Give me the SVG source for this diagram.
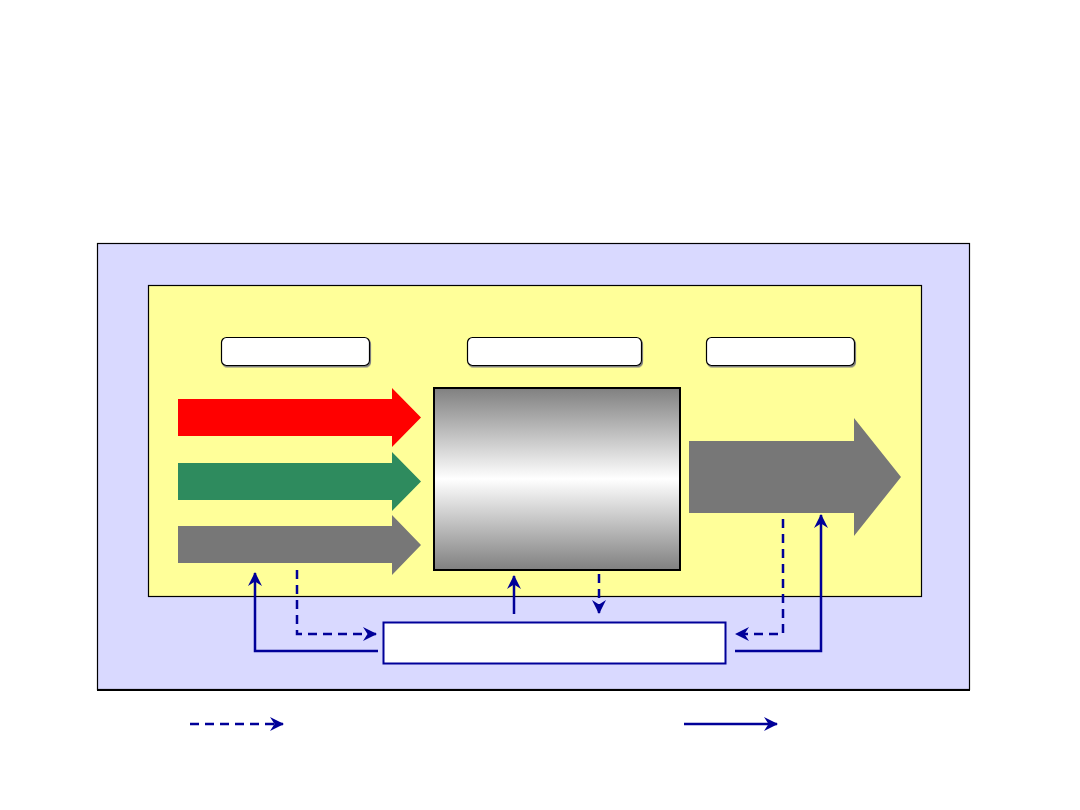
<svg xmlns="http://www.w3.org/2000/svg" width="1080" height="810" viewBox="0 0 1080 810">
<defs>
<style>
.lbl{fill:#fff;stroke:#000;stroke-width:1.2}
.c{fill:none;stroke:#000099;stroke-width:2.5}
.d{stroke-dasharray:9,6}
</style>
<linearGradient id="g" x1="0" y1="0" x2="0" y2="1">
<stop offset="0" stop-color="#808080"/>
<stop offset="0.5" stop-color="#ffffff"/>
<stop offset="1" stop-color="#808080"/>
</linearGradient>
<marker id="a" viewBox="0 0 14 14" refX="13" refY="7" markerWidth="14" markerHeight="14" markerUnits="userSpaceOnUse" orient="auto">
<path d="M0,0 L14,7 L0,14 L4.5,7 z" fill="#000099"/>
</marker>
<filter id="sh" x="-5%" y="-5%" width="110%" height="130%">
<feDropShadow dx="1" dy="1.5" stdDeviation="0.5" flood-color="#808080"/>
</filter>
</defs>
<rect width="1080" height="810" fill="#fff"/>
<g id="outer"><rect x="97.5" y="243.5" width="872" height="446" fill="#D9D9FF" stroke="#000" stroke-width="1.2"/><line x1="97" y1="690" x2="970" y2="690" stroke="#000" stroke-width="2"/></g>
<g id="inner"><rect x="148.5" y="285.5" width="773" height="311" fill="#FFFF99" stroke="#000" stroke-width="1.2"/></g>
<g id="label1"><rect class="lbl" x="221.5" y="337.5" width="148" height="28" rx="5" filter="url(#sh)"/></g>
<g id="label2"><rect class="lbl" x="467.5" y="337.5" width="174" height="28" rx="5" filter="url(#sh)"/></g>
<g id="label3"><rect class="lbl" x="706.5" y="337.5" width="148" height="28" rx="5" filter="url(#sh)"/></g>
<g id="arrow-red"><polygon points="178,399 392,399 392,388 421,417.5 392,447 392,436 178,436" fill="#FF0000"/></g>
<g id="arrow-green"><polygon points="178,463 392,463 392,452 421,481.5 392,511 392,500 178,500" fill="#2E8B5E"/></g>
<g id="arrow-gray"><polygon points="178,526 392,526 392,515 421,545 392,575 392,563 178,563" fill="#777777"/></g>
<g id="process"><rect x="434" y="388" width="246" height="182" fill="url(#g)" stroke="#000" stroke-width="2"/></g>
<g id="arrow-out"><polygon points="689,441 854,441 854,418 901,477 854,536 854,513 689,513" fill="#777777"/></g>
<g id="control"><rect x="383.5" y="622.5" width="342" height="41" fill="#fff" stroke="#000099" stroke-width="2"/></g>
<g id="connectors">
<polyline class="c" points="378,651 255,651 255,573" marker-end="url(#a)"/>
<polyline class="c d" points="297,570 297,634 376,634" marker-end="url(#a)"/>
<line class="c" x1="514" y1="614" x2="514" y2="576" marker-end="url(#a)"/>
<line class="c d" x1="599" y1="574" x2="599" y2="613" marker-end="url(#a)"/>
<polyline class="c d" points="783,519 783,634 736,634" marker-end="url(#a)"/>
<polyline class="c" points="735,651 821,651 821,515" marker-end="url(#a)"/>
<line class="c d" x1="190" y1="724" x2="283" y2="724" marker-end="url(#a)"/>
<line class="c" x1="684" y1="724" x2="777" y2="724" marker-end="url(#a)"/>
</g>
</svg>
